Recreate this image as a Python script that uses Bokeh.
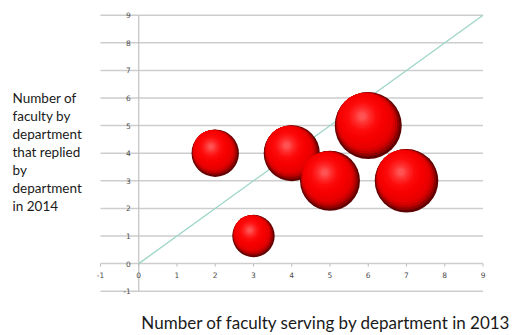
import math
from bokeh.plotting import figure
from bokeh.models import Range1d, ColumnDataSource
from bokeh.core.properties import value
from bokeh.embed import file_html
from bokeh.resources import INLINE

# ---- data ----
x_vals = [2, 3, 4, 5, 6, 7]          # faculty serving 2013
y_vals = [4, 1, 4, 3, 5, 3]          # faculty replied 2014
bubble_sizes = [5, 4, 7, 8, 10, 9]   # bubble size values
x_ticks = [-1, 0, 1, 2, 3, 4, 5, 6, 7, 8, 9]
y_ticks = [-1, 0, 1, 2, 3, 4, 5, 6, 7, 8, 9]
x_tick_labels = [str(t) for t in x_ticks]
y_tick_labels = [str(t) for t in y_ticks]
diag_x = [0, 9]
diag_y = [0, 9]
x_title = "Number of faculty serving by department in 2013"
y_title = "Number of\nfaculty by\ndepartment\nthat replied\nby\ndepartment\nin 2014"

W, H = 513, 335
p = figure(width=W, height=H,
           x_range=Range1d(-3.614, 9.797), y_range=Range1d(-2.605, 9.533),
           output_backend="svg", toolbar_location=None,
           x_axis_location=None, y_axis_location=None,
           min_border=0)
p.outline_line_color = None
p.grid.visible = False
p.background_fill_color = "white"
p.border_fill_color = "white"

sx = W / (9.797 + 3.614)
sy = H / (9.533 + 2.605)

xmin, xmax = min(x_ticks), max(x_ticks)
ymin, ymax = min(y_ticks), max(y_ticks)

# horizontal gridlines
p.segment(x0=[xmin] * len(y_ticks), x1=[xmax] * len(y_ticks), y0=y_ticks, y1=y_ticks,
          line_color="#cdcdcd", line_width=1.5)
# vertical axis line at x = 0
p.segment(x0=[0], x1=[0], y0=[ymin], y1=[ymax], line_color="#c2c2c2", line_width=1.2)
# x tick marks
p.segment(x0=x_ticks, x1=x_ticks, y0=[0] * len(x_ticks), y1=[-3.0 / sy] * len(x_ticks),
          line_color="#bdbdbd", line_width=1)

# tick labels
p.text(x=[0] * len(y_ticks), y=y_ticks, text=y_tick_labels, x_offset=-8,
       text_align="right", text_baseline="middle", text_font=value("DejaVu Sans"),
       text_font_size="7.5px", text_color="#4d4d4d")
p.text(x=x_ticks, y=[0] * len(x_ticks), text=x_tick_labels, y_offset=11,
       text_align="center", text_baseline="middle", text_font=value("DejaVu Sans"),
       text_font_size="7.5px", text_color="#4d4d4d")

p.line(diag_x, diag_y, line_color="#9dd5c8", line_width=1.3)

# ---- 3D-looking spheres from layered circles ----
def lerp_col(c1, c2, t):
    a = [int(c1[i:i + 2], 16) for i in (1, 3, 5)]
    b = [int(c2[i:i + 2], 16) for i in (1, 3, 5)]
    return "#%02x%02x%02x" % tuple(int(round(a[k] + (b[k] - a[k]) * t)) for k in range(3))

stops = [(1.00, "#600000"), (0.95, "#9a0000"), (0.90, "#cc0000"), (0.84, "#e80000"),
         (0.70, "#f60000"), (0.45, "#fd0c0c"), (0.25, "#ff2e2e"), (0.10, "#ff5252")]

def color_at(r):
    for (r1, c1), (r2, c2) in zip(stops[:-1], stops[1:]):
        if r2 <= r <= r1:
            return lerp_col(c1, c2, (r1 - r) / (r1 - r2))
    return stops[-1][1]

ux, uy = -0.55, 0.835
nrm = math.hypot(ux, uy)
ux, uy = ux / nrm, uy / nrm

max_d = 67.0
diam = [max_d * math.sqrt(s / max(bubble_sizes)) for s in bubble_sizes]
n_layers = 22
for i in range(n_layers):
    r = 1.0 - 0.9 * i / (n_layers - 1)
    off = min(1.0 - r, 0.33)
    col = color_at(r)
    src = ColumnDataSource(dict(
        x=[x + ux * off * d / 2 / sx for x, d in zip(x_vals, diam)],
        y=[y + uy * off * d / 2 / sy for y, d in zip(y_vals, diam)],
        s=[d * r for d in diam],
    ))
    p.scatter("x", "y", size="s", source=src, marker="circle",
              fill_color=col, line_color=None)

# ---- titles ----
p.text(x=[4.9], y=[-2.13], text=[x_title], text_align="center", text_baseline="middle",
       text_font=value("Lato"), text_font_size="17px", text_color="#1a1a1a")
p.text(x=[-3.3], y=[6.3], text=[y_title], text_align="left", text_baseline="top",
       text_font=value("Lato"), text_font_size="13.5px", text_line_height=1.13,
       text_color="#1a1a1a")

open("out.html", "w").write(file_html(p, INLINE))
